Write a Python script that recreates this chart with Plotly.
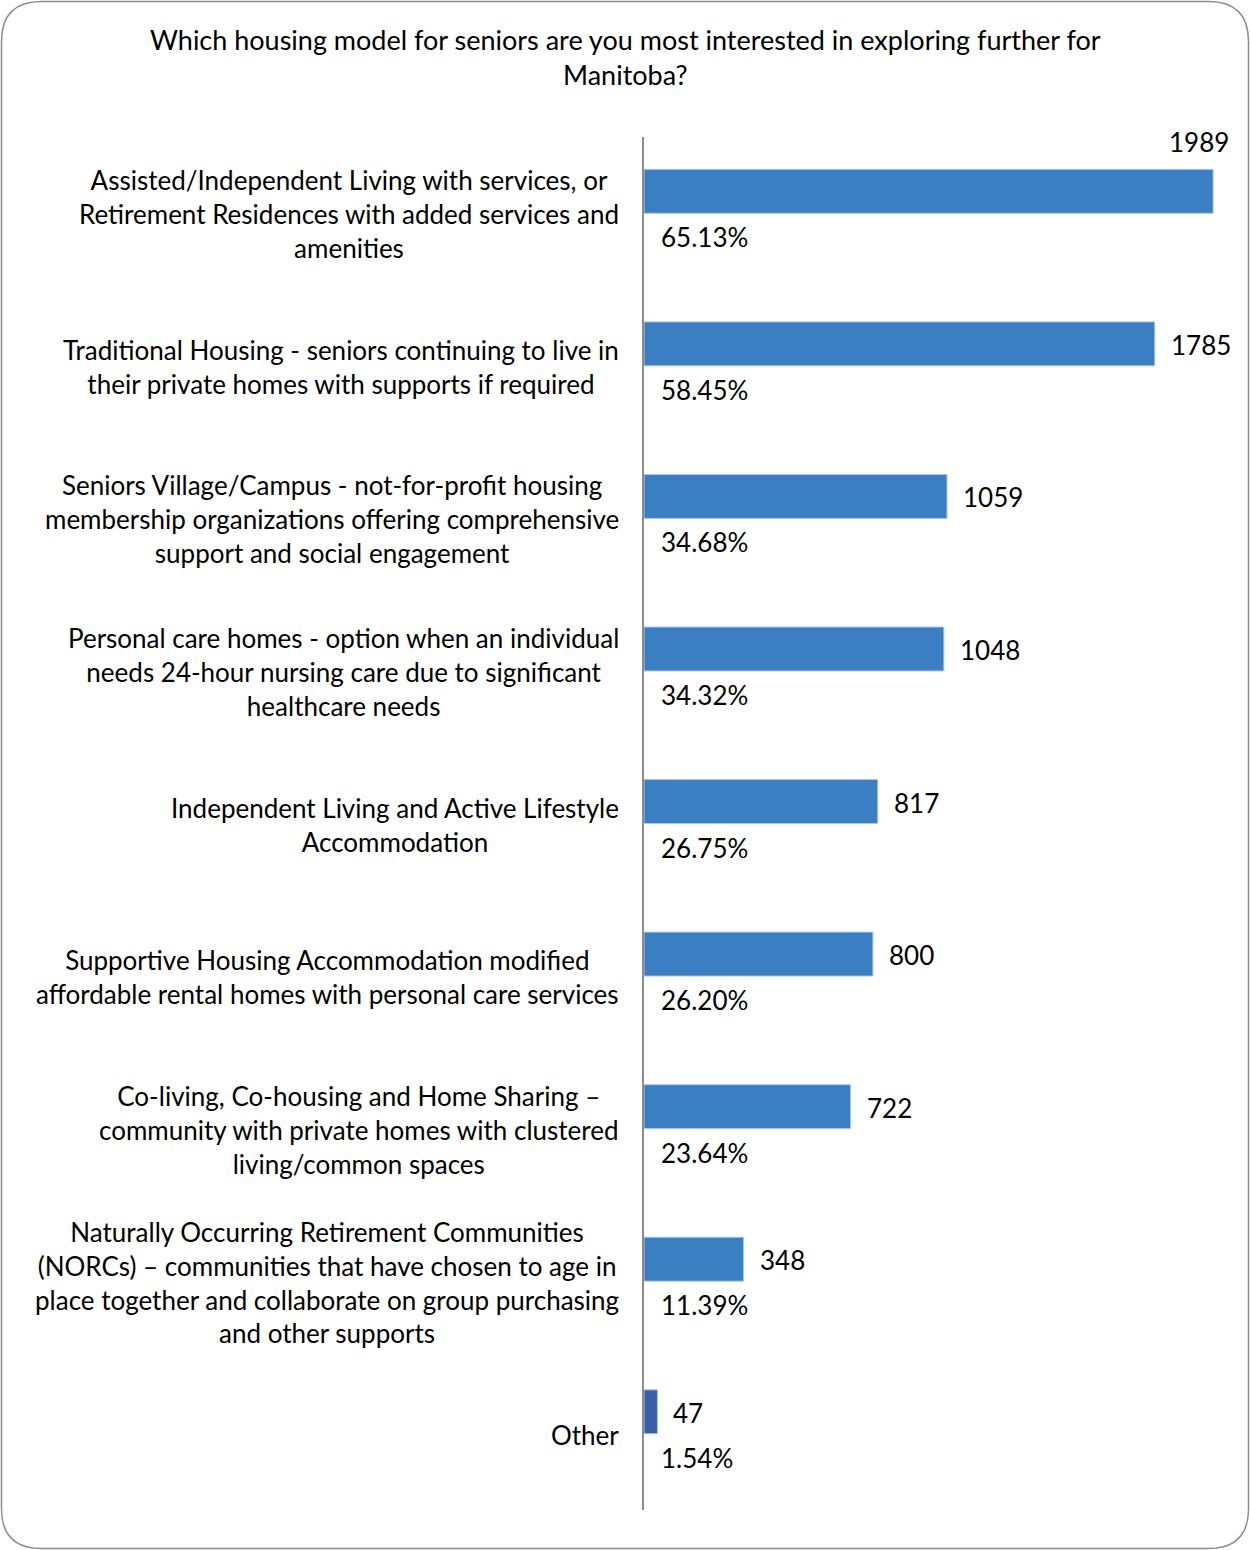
import plotly.graph_objects as go

# Survey responses: housing model preferences
categories = [
    "Assisted/Independent Living with services, or<br>Retirement Residences with added services and<br>amenities",
    "Traditional Housing - seniors continuing to live in<br>their private homes with supports if required",
    "Seniors Village/Campus - not-for-profit housing<br>membership organizations offering comprehensive<br>support and social engagement",
    "Personal care homes - option when an individual<br>needs 24-hour nursing care due to significant<br>healthcare needs",
    "Independent Living and Active Lifestyle<br>Accommodation",
    "Supportive Housing Accommodation modified<br>affordable rental homes with personal care services",
    "Co-living, Co-housing and Home Sharing \u2013<br>community with private homes with clustered<br>living/common spaces",
    "Naturally Occurring Retirement Communities<br>(NORCs) \u2013 communities that have chosen to age in<br>place together and collaborate on group purchasing<br>and other supports",
    "Other",
]
counts = [1989, 1785, 1059, 1048, 817, 800, 722, 348, 47]
percents = ["65.13%", "58.45%", "34.68%", "34.32%", "26.75%", "26.20%", "23.64%", "11.39%", "1.54%"]
title_text = "Which housing model for seniors are you most interested in exploring further for<br>Manitoba?"

W, H = 1250, 1550
ML, MR, MT, MB = 644, 20, 137, 40
PW, PH = W - ML - MR, H - MT - MB
XMAX = 2048

FONT = "Lato, 'Open Sans', sans-serif"
FS = 26
BAR = "#3B7FC2"
BAR_OTHER = "#3B5FA7"

colors = [BAR_OTHER if c == "Other" else BAR for c in categories]


def px(x):
    return (x - ML) / PW


def py(y):
    return 1 - (y - MT) / PH


fig = go.Figure()
fig.add_trace(go.Bar(
    x=counts,
    y=categories,
    orientation="h",
    width=0.288,
    offset=-0.288,
    marker=dict(color=colors, line=dict(color="#A9C8EA", width=1)),
    hoverinfo="x+y",
))

annotations = [dict(
    x=px(625), xref="paper", y=py(57), yref="paper", text=title_text,
    xanchor="center", yanchor="middle", align="center", showarrow=False,
    font=dict(family=FONT, size=27, color="#000000"),
)]
for cat, val, pct in zip(categories, counts, percents):
    # category label, centred lines, right-aligned next to the axis
    annotations.append(dict(
        x=0, xref="paper", y=cat, yref="y", text=cat,
        xanchor="right", yanchor="middle", align="center",
        xshift=-23, yshift=-1, showarrow=False,
        font=dict(family=FONT, size=FS, color="#000000"),
    ))
    # count label: right of the bar, or above it when it would not fit
    fits = (val * PW / XMAX) + 75 < PW
    annotations.append(dict(
        x=val, xref="x", y=cat, yref="y", text=str(val),
        xanchor="left" if fits else "right", yanchor="middle",
        xshift=14 if fits else 18, yshift=21 if fits else 71,
        showarrow=False,
        font=dict(family=FONT, size=FS, color="#000000"),
    ))
    # percentage label under the bar
    annotations.append(dict(
        x=0, xref="x", y=cat, yref="y", text=pct,
        xanchor="left", yanchor="middle", xshift=15, yshift=-24,
        showarrow=False,
        font=dict(family=FONT, size=FS, color="#000000"),
    ))

# rounded outer frame
x0, y0, x1, y1, r = 1.5, 1.5, 1248.5, 1548.5, 40
path = (
    f"M {px(x0 + r)} {py(y0)} L {px(x1 - r)} {py(y0)} "
    f"Q {px(x1)} {py(y0)} {px(x1)} {py(y0 + r)} "
    f"L {px(x1)} {py(y1 - r)} "
    f"Q {px(x1)} {py(y1)} {px(x1 - r)} {py(y1)} "
    f"L {px(x0 + r)} {py(y1)} "
    f"Q {px(x0)} {py(y1)} {px(x0)} {py(y1 - r)} "
    f"L {px(x0)} {py(y0 + r)} "
    f"Q {px(x0)} {py(y0)} {px(x0 + r)} {py(y0)} Z"
)

fig.update_layout(
    width=W, height=H,
    margin=dict(l=ML, r=MR, t=MT, b=MB),
    paper_bgcolor="white", plot_bgcolor="white",
    showlegend=False,
    xaxis=dict(range=[0, XMAX], visible=False, fixedrange=True),
    yaxis=dict(
        categoryorder="array", categoryarray=categories,
        autorange="reversed", showticklabels=False, ticks="",
        showline=True, linecolor="#8C8C8C", linewidth=2,
        showgrid=False, zeroline=False, fixedrange=True,
    ),
    annotations=annotations,
    shapes=[dict(type="path", path=path, xref="paper", yref="paper",
                 line=dict(color="#8C8C8C", width=1.5), layer="above")],
)

fig.write_html("out.html")
